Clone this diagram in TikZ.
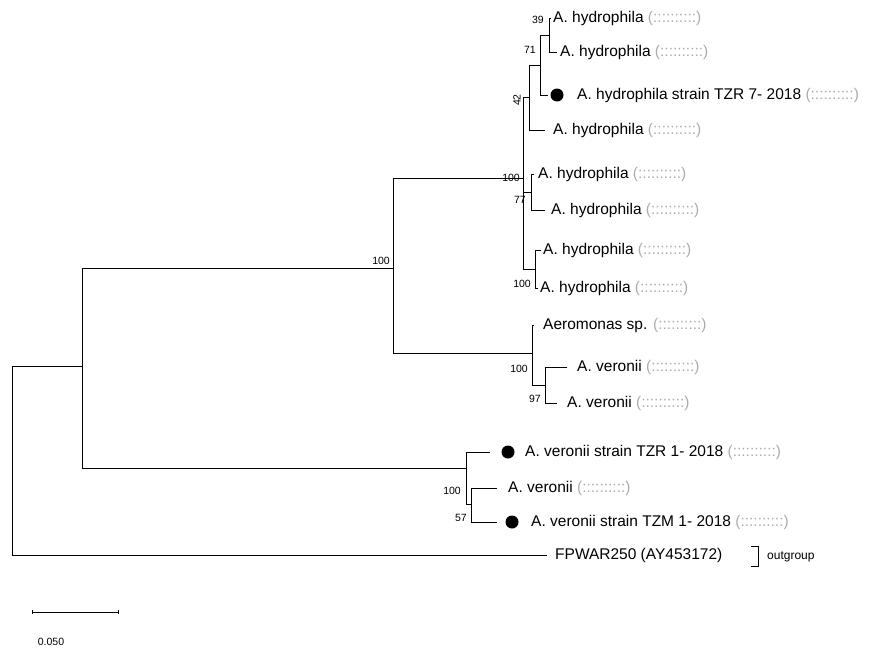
\documentclass[tikz,border=0pt]{standalone}
\usepackage{fontspec}
\setmainfont{Liberation Sans}
\usetikzlibrary{positioning}
\newcommand{\acc}{\textcolor{gray!65}{(::::::::::)}}

\begin{document}
\begin{tikzpicture}[x=1pt, y=-1pt,
  branch/.style={draw=black, line width=0.8pt},
  taxon/.style={anchor=west, inner sep=0pt, font=\fontsize{15.5}{17}\selectfont},
  boot/.style={anchor=east, inner sep=1pt, font=\fontsize{10.5}{12}\selectfont},
  strainmark/.style={circle, fill=black, inner sep=0pt, minimum size=13pt}
]
\useasboundingbox (0,0) rectangle (871,656);

% internal nodes
\coordinate (root) at (12,366);
\coordinate (nA) at (82,366);
\coordinate (nM) at (393,268);
\coordinate (nH) at (523,178);
\coordinate (n42) at (529,97);
\coordinate (n71) at (540,65);
\coordinate (n39) at (549,35);
\coordinate (n77) at (531,192);
\coordinate (nB) at (535,269);
\coordinate (nV) at (532,353);
\coordinate (nV2) at (545,385);
\coordinate (nC) at (466,468);
\coordinate (nC2) at (471,504);

% branch tips
\coordinate (t1) at (551,18);
\coordinate (t2) at (557,52);
\coordinate (t3) at (548,95);
\coordinate (t4) at (545,130);
\coordinate (t5) at (534,174);
\coordinate (t6) at (545,210);
\coordinate (t7) at (541,250);
\coordinate (t8) at (538,288);
\coordinate (t9) at (534,325);
\coordinate (t10) at (567,367);
\coordinate (t11) at (557,403);
\coordinate (t12) at (490,452);
\coordinate (t13) at (497,488);
\coordinate (t14) at (497,522);
\coordinate (tout) at (547,555);

% branches
\draw[branch] (root) |- (nA);
\draw[branch] (root) |- (tout);
\draw[branch] (nA) |- (nM);
\draw[branch] (nA) |- (nC);
\draw[branch] (nM) |- (nH);
\draw[branch] (nM) |- (nV);
\draw[branch] (nH) |- (n42);
\draw[branch] (nH) |- (n77);
\draw[branch] (nH) |- (nB);
\draw[branch] (n42) |- (n71);
\draw[branch] (n42) |- (t4);
\draw[branch] (n71) |- (n39);
\draw[branch] (n71) |- (t3);
\draw[branch] (n39) |- (t1);
\draw[branch] (n39) |- (t2);
\draw[branch] (n77) |- (t5);
\draw[branch] (n77) |- (t6);
\draw[branch] (nB) |- (t7);
\draw[branch] (nB) |- (t8);
\draw[branch] (nV) |- (t9);
\draw[branch] (nV) |- (nV2);
\draw[branch] (nV2) |- (t10);
\draw[branch] (nV2) |- (t11);
\draw[branch] (nC) |- (t12);
\draw[branch] (nC) |- (nC2);
\draw[branch] (nC2) |- (t13);
\draw[branch] (nC2) |- (t14);

% bootstrap values
\node[boot, anchor=south east] (b1) at (391,266) {100};
\node[boot] (b2) at (521,178) {100};
\node[boot] (b3) at (545,20) {39};
\node[boot] (b4) at (537,50) {71};
\node[boot, anchor=center, rotate=90] (b5) at (517,100) {42};
\node[boot] (b6) at (527,200) {77};
\node[boot] (b7) at (532,284) {100};
\node[boot] (b8) at (529,369) {100};
\node[boot] (b9) at (542,399) {97};
\node[boot] (b10) at (462,491) {100};
\node[boot] (b11) at (468,518) {57};

% taxa
\node[taxon] (l1) at (553,18) {A. hydrophila \acc};
\node[taxon] (l2) at (560,52) {A. hydrophila \acc};
\node[strainmark] (d3) at (557,95) {};
\node[taxon] (l3) at (577,95) {A. hydrophila strain TZR 7- 2018 \acc};
\node[taxon] (l4) at (553,130) {A. hydrophila \acc};
\node[taxon] (l5) at (538,174) {A. hydrophila \acc};
\node[taxon] (l6) at (551,210) {A. hydrophila \acc};
\node[taxon] (l7) at (543,250) {A. hydrophila \acc};
\node[taxon] (l8) at (540,288) {A. hydrophila \acc};
\node[taxon] (l9) at (543,325) {Aeromonas sp. \acc};
\node[taxon] (l10) at (577,367) {A. veronii \acc};
\node[taxon] (l11) at (567,403) {A. veronii \acc};
\node[strainmark] (d12) at (508,452) {};
\node[taxon] (l12) at (525,452) {A. veronii strain TZR 1- 2018 \acc};
\node[taxon] (l13) at (508,488) {A. veronii \acc};
\node[strainmark] (d14) at (512,522) {};
\node[taxon] (l14) at (531,522) {A. veronii strain TZM 1- 2018 \acc};
\node[taxon] (lout) at (555,555) {FPWAR250 (AY453172)};

% outgroup bracket
\draw[branch] (751,546) -- (758,546) -- (758,566) -- (751,566);
\node[boot, anchor=west, font=\fontsize{12}{14}\selectfont] (og) at (766,557) {outgroup};

% scale bar
\coordinate (s0) at (32,612);
\coordinate (s1) at (118,612);
\draw[branch] (s0) -- (s1);
\draw[branch] ([yshift=-2]s0) -- ([yshift=2]s0);
\draw[branch] ([yshift=-2]s1) -- ([yshift=2]s1);
\node[boot, anchor=center] (sl) at (51,642) {0.050};
\end{tikzpicture}
\end{document}
